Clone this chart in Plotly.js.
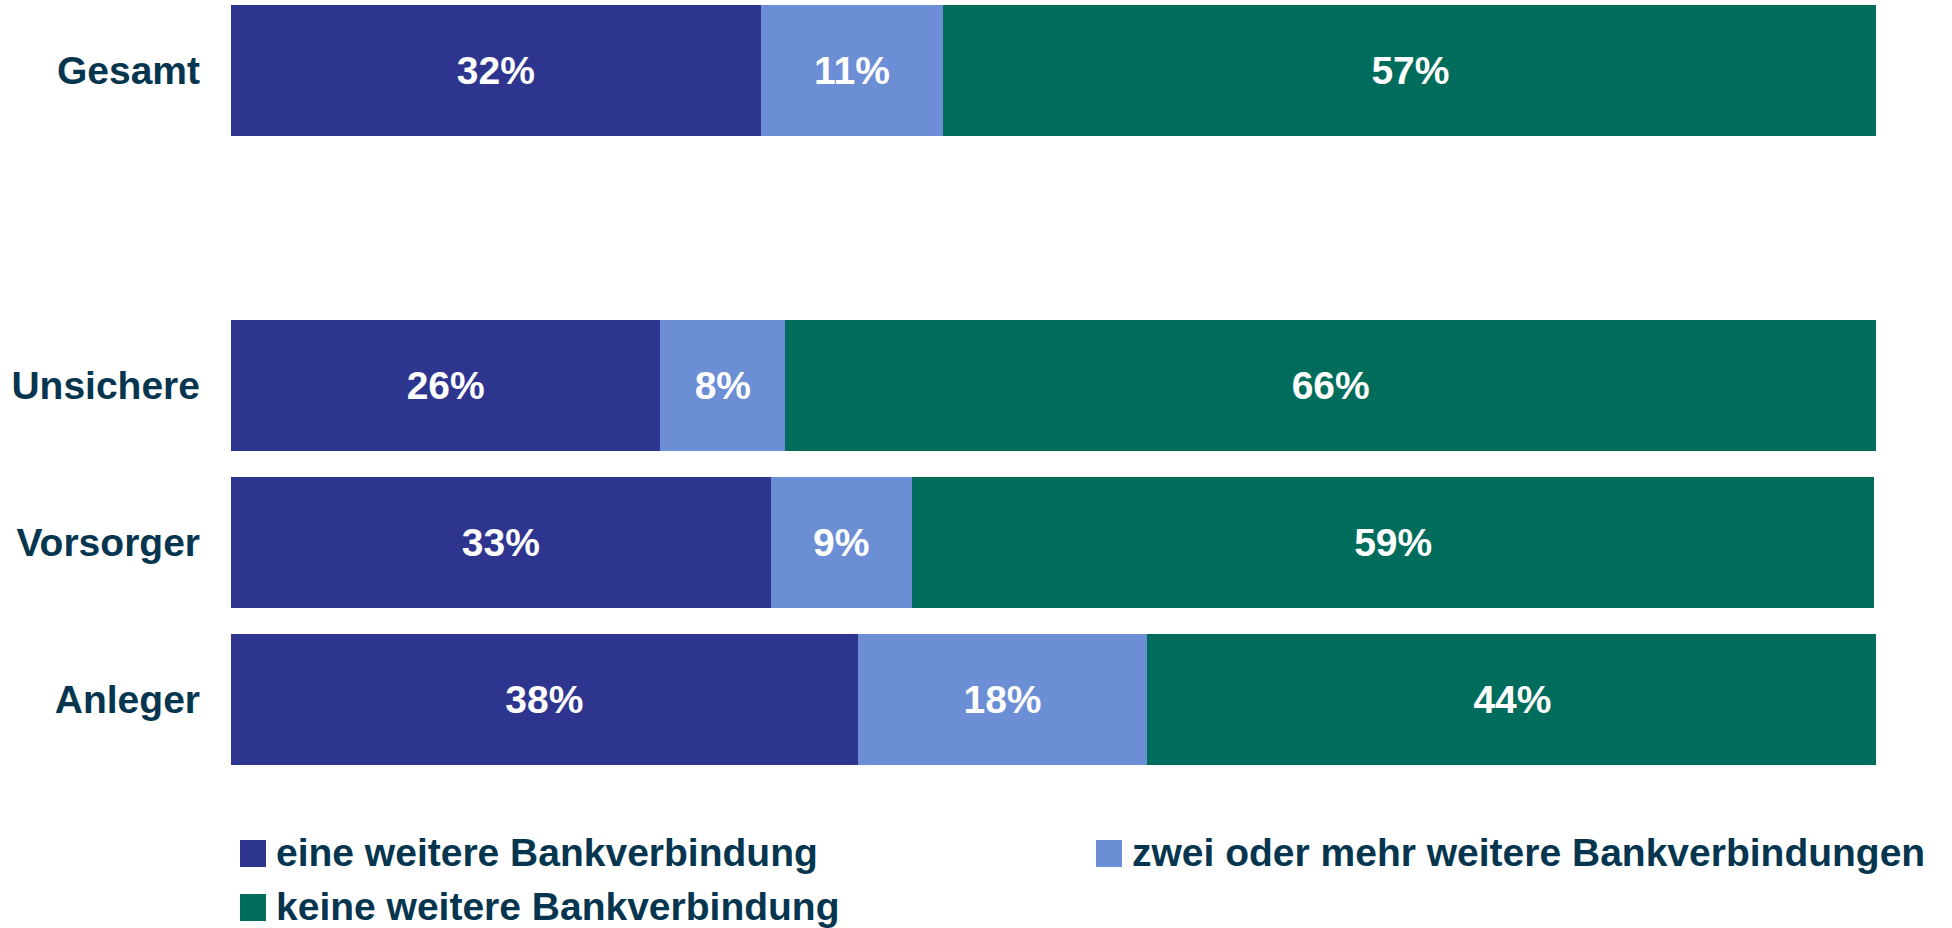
<!DOCTYPE html>
<html>
<head>
<meta charset="utf-8">
<script src="https://cdn.plot.ly/plotly-3.0.1.min.js"></script>
<style>
  html, body { margin: 0; padding: 0; background: #fff; }
  #chart { width: 1952px; height: 928px; }
</style>
</head>
<body>
<div id="chart"></div>
<script>
// Rows (the blank one is the gap between "Gesamt" and the segments)
const categories = ['Gesamt', ' ', 'Unsichere', 'Vorsorger', 'Anleger'];

// Shares in %
const eineWeitere = [32.2, null, 26.1, 32.8, 38.1];
const zweiOderMehr = [11.1, null, 7.6, 8.6, 17.6];
const keineWeitere = [56.8, null, 66.3, 58.5, 44.4];

const seriesNames = [
    'eine weitere Bankverbindung',
    'zwei oder mehr weitere Bankverbindungen',
    'keine weitere Bankverbindung'
];
const seriesColors = ['#2E358F', '#6C8ED5', '#006C5B'];

const FONT = '"Liberation Sans", Arial, sans-serif';
const NAVY = '#06364F';

const traces = [eineWeitere, zweiOderMehr, keineWeitere].map((vals, i) => ({
    type: 'bar',
    orientation: 'h',
    name: seriesNames[i],
    x: vals,
    y: categories,
    marker: { color: seriesColors[i], line: { width: 0 } },
    texttemplate: '%{x:.0f}%',
    textposition: 'inside',
    insidetextanchor: 'middle',
    textangle: 0,
    textfont: { family: FONT, size: 39, color: '#ffffff', weight: 700 },
    hoverinfo: 'skip',
    showlegend: false
}));

// Legend drawn by hand so the swatches can be as large as in the original
const W = 1952, H = 928;
const mL = 231, mR = 76, mT = 0, mB = 150;
const plotW = W - mL - mR, plotH = H - mT - mB;
const px = v => (v - mL) / plotW;
const py = v => (plotH + mT - v) / plotH;

const legendSlots = [
    { x: 240, y: 840 },
    { x: 1096, y: 840 },
    { x: 240, y: 894 }
];
const shapes = [];
const annotations = [];
legendSlots.forEach((s, i) => {
    shapes.push({
        type: 'rect', xref: 'paper', yref: 'paper',
        x0: px(s.x), x1: px(s.x + 26), y0: py(s.y + 27), y1: py(s.y),
        fillcolor: seriesColors[i], line: { width: 0 }
    });
    annotations.push({
        xref: 'paper', yref: 'paper',
        x: px(s.x + 34), y: py(s.y + 12),
        xanchor: 'left', yanchor: 'middle',
        text: seriesNames[i], showarrow: false,
        font: { family: FONT, size: 39, color: NAVY, weight: 700 }
    });
});

const layout = {
    width: W,
    height: H,
    margin: { l: mL, r: mR, t: mT, b: mB },
    paper_bgcolor: '#ffffff',
    plot_bgcolor: '#ffffff',
    barmode: 'stack',
    bargap: 0.167,
    showlegend: false,
    xaxis: {
        range: [0, 100],
        visible: false,
        fixedrange: true
    },
    yaxis: {
        type: 'category',
        categoryorder: 'array',
        categoryarray: categories,
        range: [4.5, -0.45],
        showgrid: false,
        zeroline: false,
        showline: false,
        ticks: '',
        ticklabelstandoff: 30,
        tickfont: { family: FONT, size: 39, color: NAVY, weight: 700 },
        fixedrange: true
    },
    shapes: shapes,
    annotations: annotations
};

Plotly.newPlot('chart', traces, layout, { displayModeBar: false, staticPlot: true });
</script>
</body>
</html>
